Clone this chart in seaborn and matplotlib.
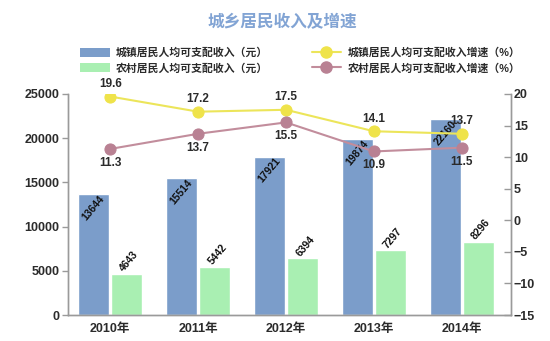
import numpy as np
import pandas as pd
import matplotlib
matplotlib.use("Agg")
import matplotlib.pyplot as plt
from matplotlib.lines import Line2D
from matplotlib.patches import Patch
import seaborn as sns

years = ["2010年", "2011年", "2012年", "2013年", "2014年"]
urban_income = [13644, 15514, 17921, 19874, 22160]
rural_income = [4643, 5442, 6394, 7297, 8296]
urban_rate = [19.6, 17.2, 17.5, 14.1, 13.7]
rural_rate = [11.3, 13.7, 15.5, 10.9, 11.5]
series_names = ["城镇居民人均可支配收入（元）", "农村居民人均可支配收入（元）",
                "城镇居民人均可支配收入增速（%）", "农村居民人均可支配收入增速（%）"]
title = "城乡居民收入及增速"

BLUE = "#7b9dca"
GREEN = "#a9efb2"
YELLOW = "#ece55a"
YELLOW_M = "#efe34a"
PINK = "#c28d9c"
PINK_M = "#b98193"
TXT = "#2b2b2b"

sns.set_theme(style="white")
plt.rcParams["font.family"] = ["Liberation Sans", "Noto Sans CJK SC", "DejaVu Sans"]
plt.rcParams["axes.unicode_minus"] = True

df = pd.DataFrame({
    "year": years * 2,
    "value": urban_income + rural_income,
    "type": [series_names[0]] * 5 + [series_names[1]] * 5,
})

fig = plt.figure(figsize=(5.5, 3.41), dpi=100)
ax = fig.add_axes([68 / 550, 1 - 315 / 341, (511 - 68) / 550, (315 - 94) / 341])

sns.barplot(data=df, x="year", y="value", hue="type", palette=[BLUE, GREEN],
            width=0.75, gap=0.06, ax=ax, legend=False, saturation=1)
ax.set_xlim(-0.48, 4.56)
ax.set_ylim(0, 25000)
ax.set_yticks(np.arange(0, 25001, 5000))
ax.set_xlabel("")
ax.set_ylabel("")

# bar labels
for patch, val in zip(ax.containers[0], urban_income):
    ax.annotate(f"{val}", (patch.get_x() + patch.get_width() / 2, patch.get_height()),
                xytext=(0, -10), textcoords="offset points", rotation=50,
                ha="center", va="center", fontsize=7.5, fontweight="bold", color="#111111")
for patch, val in zip(ax.containers[1], rural_income):
    ax.annotate(f"{val}", (patch.get_x() + patch.get_width() / 2, patch.get_height()),
                xytext=(2, 9), textcoords="offset points", rotation=50,
                ha="center", va="center", fontsize=7.5, fontweight="bold", color="#111111")

ax2 = ax.twinx()
xpos = np.arange(len(years))
sns.lineplot(x=xpos, y=urban_rate, ax=ax2, color=YELLOW, lw=1.5, marker="o",
             markersize=8, markerfacecolor=YELLOW_M, markeredgecolor=YELLOW_M)
sns.lineplot(x=xpos, y=rural_rate, ax=ax2, color=PINK, lw=1.5, marker="o",
             markersize=8, markerfacecolor=PINK_M, markeredgecolor=PINK_M)
ax2.set_ylim(-15, 20)
ax2.set_yticks(np.arange(-15, 21, 5))
ax2.set_xlim(-0.48, 4.56)

for x, v in zip(xpos, urban_rate):
    ax2.annotate(f"{v}", (x, v), xytext=(0, 9), textcoords="offset points",
                 ha="center", va="center", fontsize=8.5, fontweight="bold", color=TXT)
for x, v in zip(xpos, rural_rate):
    ax2.annotate(f"{v}", (x, v), xytext=(0, -10), textcoords="offset points",
                 ha="center", va="center", fontsize=8.5, fontweight="bold", color=TXT)

# spines and ticks
SP = "#9a9a9a"
for a in (ax, ax2):
    a.spines["top"].set_visible(False)
    for s in ("left", "right", "bottom"):
        a.spines[s].set_color(SP)
        a.spines[s].set_linewidth(1.0)
ax.tick_params(axis="y", direction="out", length=4, color=SP, width=1, left=True,
               labelsize=9, labelcolor=TXT, pad=2)
ax.tick_params(axis="x", length=0, labelsize=9, labelcolor=TXT, pad=6)
ax2.tick_params(axis="y", direction="in", length=5, color=SP, width=1, right=True,
                labelsize=9, labelcolor=TXT, pad=2)
for lab in ax.get_yticklabels() + ax.get_xticklabels() + ax2.get_yticklabels():
    lab.set_fontweight("bold")

# legend
handles = [
    Patch(facecolor=BLUE, edgecolor="none"),
    Patch(facecolor=GREEN, edgecolor="none"),
    Line2D([], [], color=YELLOW, lw=1.5, marker="o", markersize=8,
           markerfacecolor=YELLOW_M, markeredgecolor=YELLOW_M),
    Line2D([], [], color=PINK, lw=1.5, marker="o", markersize=8,
           markerfacecolor=PINK_M, markeredgecolor=PINK_M),
]
leg = fig.legend(handles, series_names, ncol=2, loc="upper left",
                 bbox_to_anchor=(76 / 550, 1 - 43 / 341), frameon=False,
                 prop={"size": 7.8, "weight": "bold"}, handlelength=2.7,
                 handleheight=0.9, handletextpad=0.6, columnspacing=4.0,
                 labelspacing=0.45, borderaxespad=0)
for t in leg.get_texts():
    t.set_color(TXT)

fig.text(282 / 550, 1 - 22 / 341, title, ha="center", va="center", fontsize=12,
         fontweight="bold", color="#82a4d4")

fig.savefig("out.png", dpi=100, facecolor="white")
